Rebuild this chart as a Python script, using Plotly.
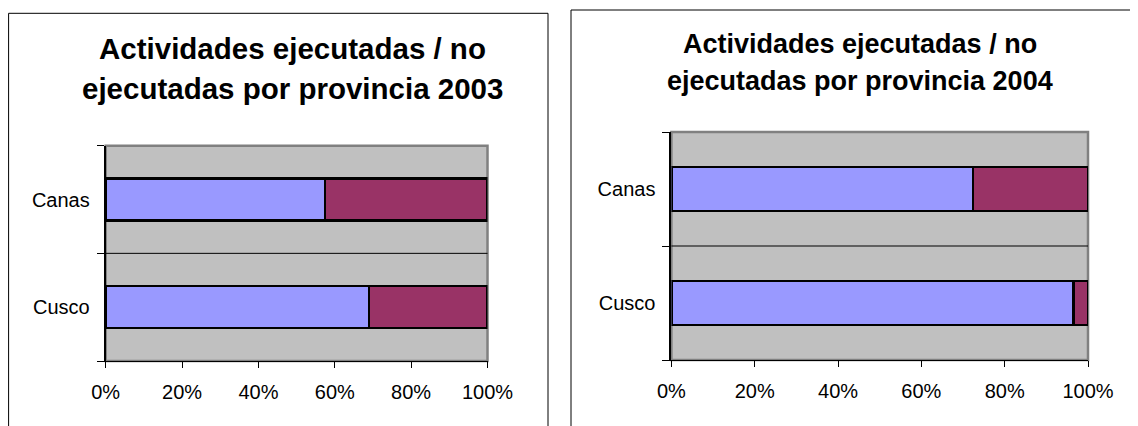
import plotly.graph_objects as go

provinces = ["Cusco", "Canas"]
ejecutadas_2003 = [69.0, 57.5]
no_ejecutadas_2003 = [31.0, 42.5]
ejecutadas_2004 = [96.5, 72.4]
no_ejecutadas_2004 = [3.5, 27.6]
title_2003 = ["Actividades ejecutadas / no", "ejecutadas por provincia 2003"]
title_2004 = ["Actividades ejecutadas / no", "ejecutadas por provincia 2004"]
x_tickvals = [0, 20, 40, 60, 80, 100]
x_ticktext = ["0%", "20%", "40%", "60%", "80%", "100%"]

W, H = 1138, 426
OFF = 8  # page body margin
FONT = "Arial, Liberation Sans, sans-serif"
BLUE = "#9999FF"
MAROON = "#993366"

def px(x):
    return (x - OFF) / W

def py(y):
    return 1 - (y - OFF) / H

fig = go.Figure()

for xa, ya, ej, no in [("x", "y", ejecutadas_2003, no_ejecutadas_2003),
                       ("x2", "y2", ejecutadas_2004, no_ejecutadas_2004)]:
    fig.add_trace(go.Bar(y=provinces, x=ej, orientation="h", xaxis=xa, yaxis=ya,
                         marker=dict(color=BLUE, line=dict(color="black", width=2.5)),
                         name="Ejecutadas"))
    fig.add_trace(go.Bar(y=provinces, x=no, orientation="h", xaxis=xa, yaxis=ya,
                         marker=dict(color=MAROON, line=dict(color="black", width=2.5)),
                         name="No ejecutadas"))

xcommon = dict(range=[0, 100], tickvals=x_tickvals, ticktext=x_ticktext,
               showline=True, linecolor="black", linewidth=1, ticks="outside",
               ticklen=6, tickcolor="black", showgrid=False, zeroline=False,
               tickfont=dict(family=FONT, size=20, color="black"),
               ticklabelstandoff=7, fixedrange=True, automargin=False)
ycommon = dict(type="category", tickson="boundaries", showline=True, linecolor="black",
               linewidth=2, ticks="outside", ticklen=7, tickcolor="black",
               showgrid=False, zeroline=False,
               tickfont=dict(family=FONT, size=20, color="black"),
               ticklabelstandoff=10, fixedrange=True, automargin=False)

fig.update_layout(
    width=W, height=H, autosize=False,
    margin=dict(l=0, r=0, t=0, b=0, pad=0, autoexpand=False),
    paper_bgcolor="white", plot_bgcolor="#C0C0C0",
    barmode="stack", bargap=0.61, showlegend=False,
    xaxis=dict(domain=[px(105.7), px(487.5)], anchor="y", **xcommon),
    yaxis=dict(domain=[py(361), py(145.7)], anchor="x", **ycommon),
    xaxis2=dict(domain=[px(671.4), px(1088)], anchor="y2", **xcommon),
    yaxis2=dict(domain=[py(360), py(132)], anchor="x2", **ycommon),
)

shapes = []
# outer chart frames
shapes.append(dict(type="rect", xref="paper", yref="paper", x0=px(8.6), x1=px(548),
                   y0=py(450), y1=py(13.3), line=dict(color="black", width=1),
                   fillcolor="rgba(0,0,0,0)", layer="below"))
shapes.append(dict(type="rect", xref="paper", yref="paper", x0=px(571), x1=px(1160),
                   y0=py(450), y1=py(10), line=dict(color="black", width=1),
                   fillcolor="rgba(0,0,0,0)", layer="below"))
for xr, yr in [("x domain", "y domain"), ("x2 domain", "y2 domain")]:
    shapes.append(dict(type="rect", xref=xr, yref=yr, x0=0, x1=1, y0=0, y1=1,
                       line=dict(color="#808080", width=2.5), layer="below"))
    shapes.append(dict(type="line", xref=xr, yref=yr, x0=0, x1=1, y0=0.5, y1=0.5,
                       line=dict(color="black", width=1), layer="below"))
fig.update_layout(shapes=shapes)

annotations = []
for lines, cx, ys, size in [(title_2003, 292, [49, 88], 29.5),
                            (title_2004, 860, [44, 81], 27)]:
    for text, yy in zip(lines, ys):
        annotations.append(dict(text="<b>" + text + "</b>", xref="paper", yref="paper",
                                x=px(cx), y=py(yy), xanchor="center", yanchor="middle",
                                showarrow=False,
                                font=dict(family=FONT, size=size, color="black")))
fig.update_layout(annotations=annotations)

fig.write_html("out.html")
